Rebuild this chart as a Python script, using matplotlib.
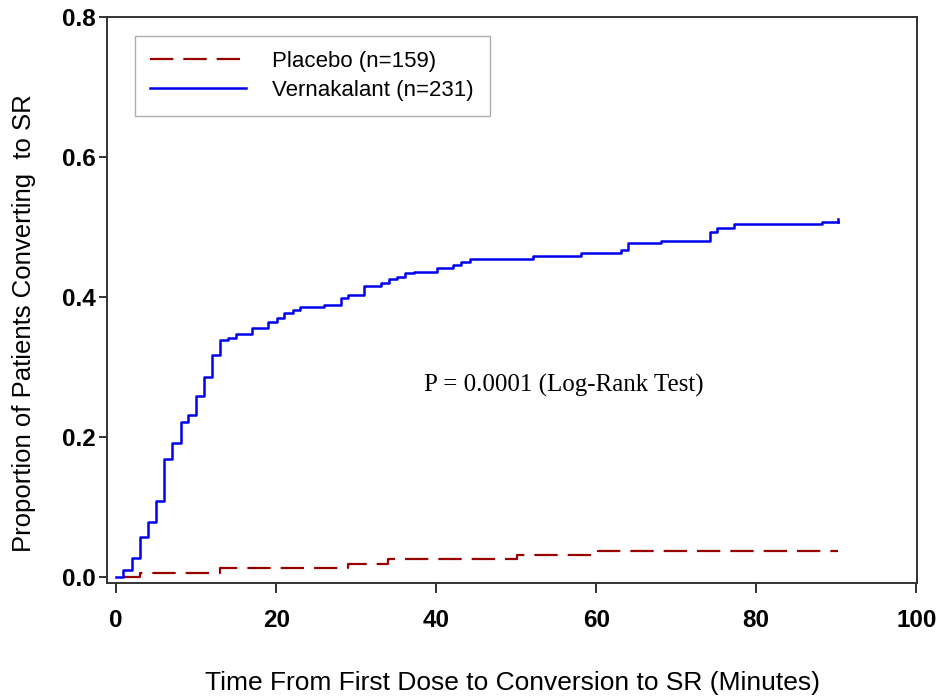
import matplotlib
matplotlib.use("Agg")
import matplotlib.pyplot as plt
from matplotlib.lines import Line2D

plt.rcParams['font.family'] = ['Liberation Sans', 'DejaVu Sans']

# Kaplan-Meier style cumulative conversion, step points (minutes, proportion)
verna_t = [0, 0.9, 2.0, 3.0, 4.0, 5.0, 6.0, 7.0, 8.1, 9.0, 10.0, 11.0, 12.0, 13.0,
           14.0, 15.0, 17.0, 19.0, 20.1, 21.0, 22.1, 23.0, 26.0, 28.1, 29.0, 31.0,
           33.1, 34.1, 35.1, 36.1, 37.2, 40.1, 42.1, 43.1, 44.2, 52.1, 58.1, 63.1,
           64.0, 68.1, 74.2, 75.1, 77.2, 88.2, 90.2]
verna_p = [0, 0.010, 0.027, 0.057, 0.078, 0.109, 0.169, 0.191, 0.222, 0.232, 0.259,
           0.285, 0.317, 0.339, 0.342, 0.347, 0.355, 0.364, 0.370, 0.377, 0.381,
           0.386, 0.389, 0.398, 0.403, 0.415, 0.420, 0.425, 0.429, 0.434, 0.436,
           0.441, 0.446, 0.450, 0.454, 0.459, 0.463, 0.467, 0.477, 0.480, 0.493,
           0.498, 0.504, 0.507, 0.507]
verna_end = 0.511

placebo_t = [0.9, 3.0, 13.0, 29.0, 34.0, 50.1, 60.2, 90.2]
placebo_p = [0, 0.0063, 0.0126, 0.0189, 0.0252, 0.0314, 0.0377, 0.0377]

xticks = [0, 20, 40, 60, 80, 100]
yticks = [0.0, 0.2, 0.4, 0.6, 0.8]

fig = plt.figure(figsize=(9.38, 6.98), dpi=100)
ax = fig.add_axes([0.1141, 0.1648, 0.8635, 0.8108])

red = '#990000'
blue = '#0000ee'

ax.step(placebo_t, placebo_p, where='post', color=red, lw=1.6,
        linestyle=(0, (10.5, 4.5)))
ax.step(verna_t, verna_p, where='post', color=blue, lw=1.8)
ax.plot([verna_t[-1], verna_t[-1]], [verna_p[-1], verna_end], color=blue, lw=1.8)

ax.set_xlim(-1.15, 100.1)
ax.set_ylim(-0.0086, 0.8)
ax.set_xticks(xticks)
ax.set_xticklabels([str(v) for v in xticks])
ax.set_yticks(yticks)
ax.set_yticklabels(['%.1f' % v for v in yticks])

for lab in ax.get_xticklabels() + ax.get_yticklabels():
    lab.set_fontweight('bold')
    lab.set_fontsize(17.5)
ax.tick_params(axis='x', direction='out', length=7, width=1.3, pad=12, colors='#222222')
ax.tick_params(axis='y', direction='out', length=6, width=1.3, pad=2, colors='#222222')
for lab in ax.get_xticklabels() + ax.get_yticklabels():
    lab.set_color('black')
for sp in ax.spines.values():
    sp.set_linewidth(1.4)
    sp.set_color('#333333')

ax.set_xlabel('Time From First Dose to Conversion to SR (Minutes)', fontsize=19, labelpad=28)
ax.set_ylabel('Proportion of Patients Converting  to SR', fontsize=18.5)
ax.yaxis.set_label_coords(-0.088, 0.46)

ax.text(56.0, 0.274, 'P = 0.0001 (Log-Rank Test)', family=['Liberation Serif'],
        fontsize=18, ha='center', va='center')

handles = [Line2D([], [], color=red, lw=1.6, linestyle=(0, (10.5, 4.5))),
           Line2D([], [], color=blue, lw=1.8)]
leg = ax.legend(handles, ['Placebo (n=159)', 'Vernakalant (n=231)'],
                loc='upper left', bbox_to_anchor=(0.034, 0.967), fontsize=16,
                frameon=True, fancybox=False, handlelength=4.3, handletextpad=1.2,
                borderpad=0.7, labelspacing=0.33, borderaxespad=0)
leg.get_frame().set_edgecolor('#999999')
leg.get_frame().set_linewidth(1.0)

fig.savefig('out.png', dpi=100)
